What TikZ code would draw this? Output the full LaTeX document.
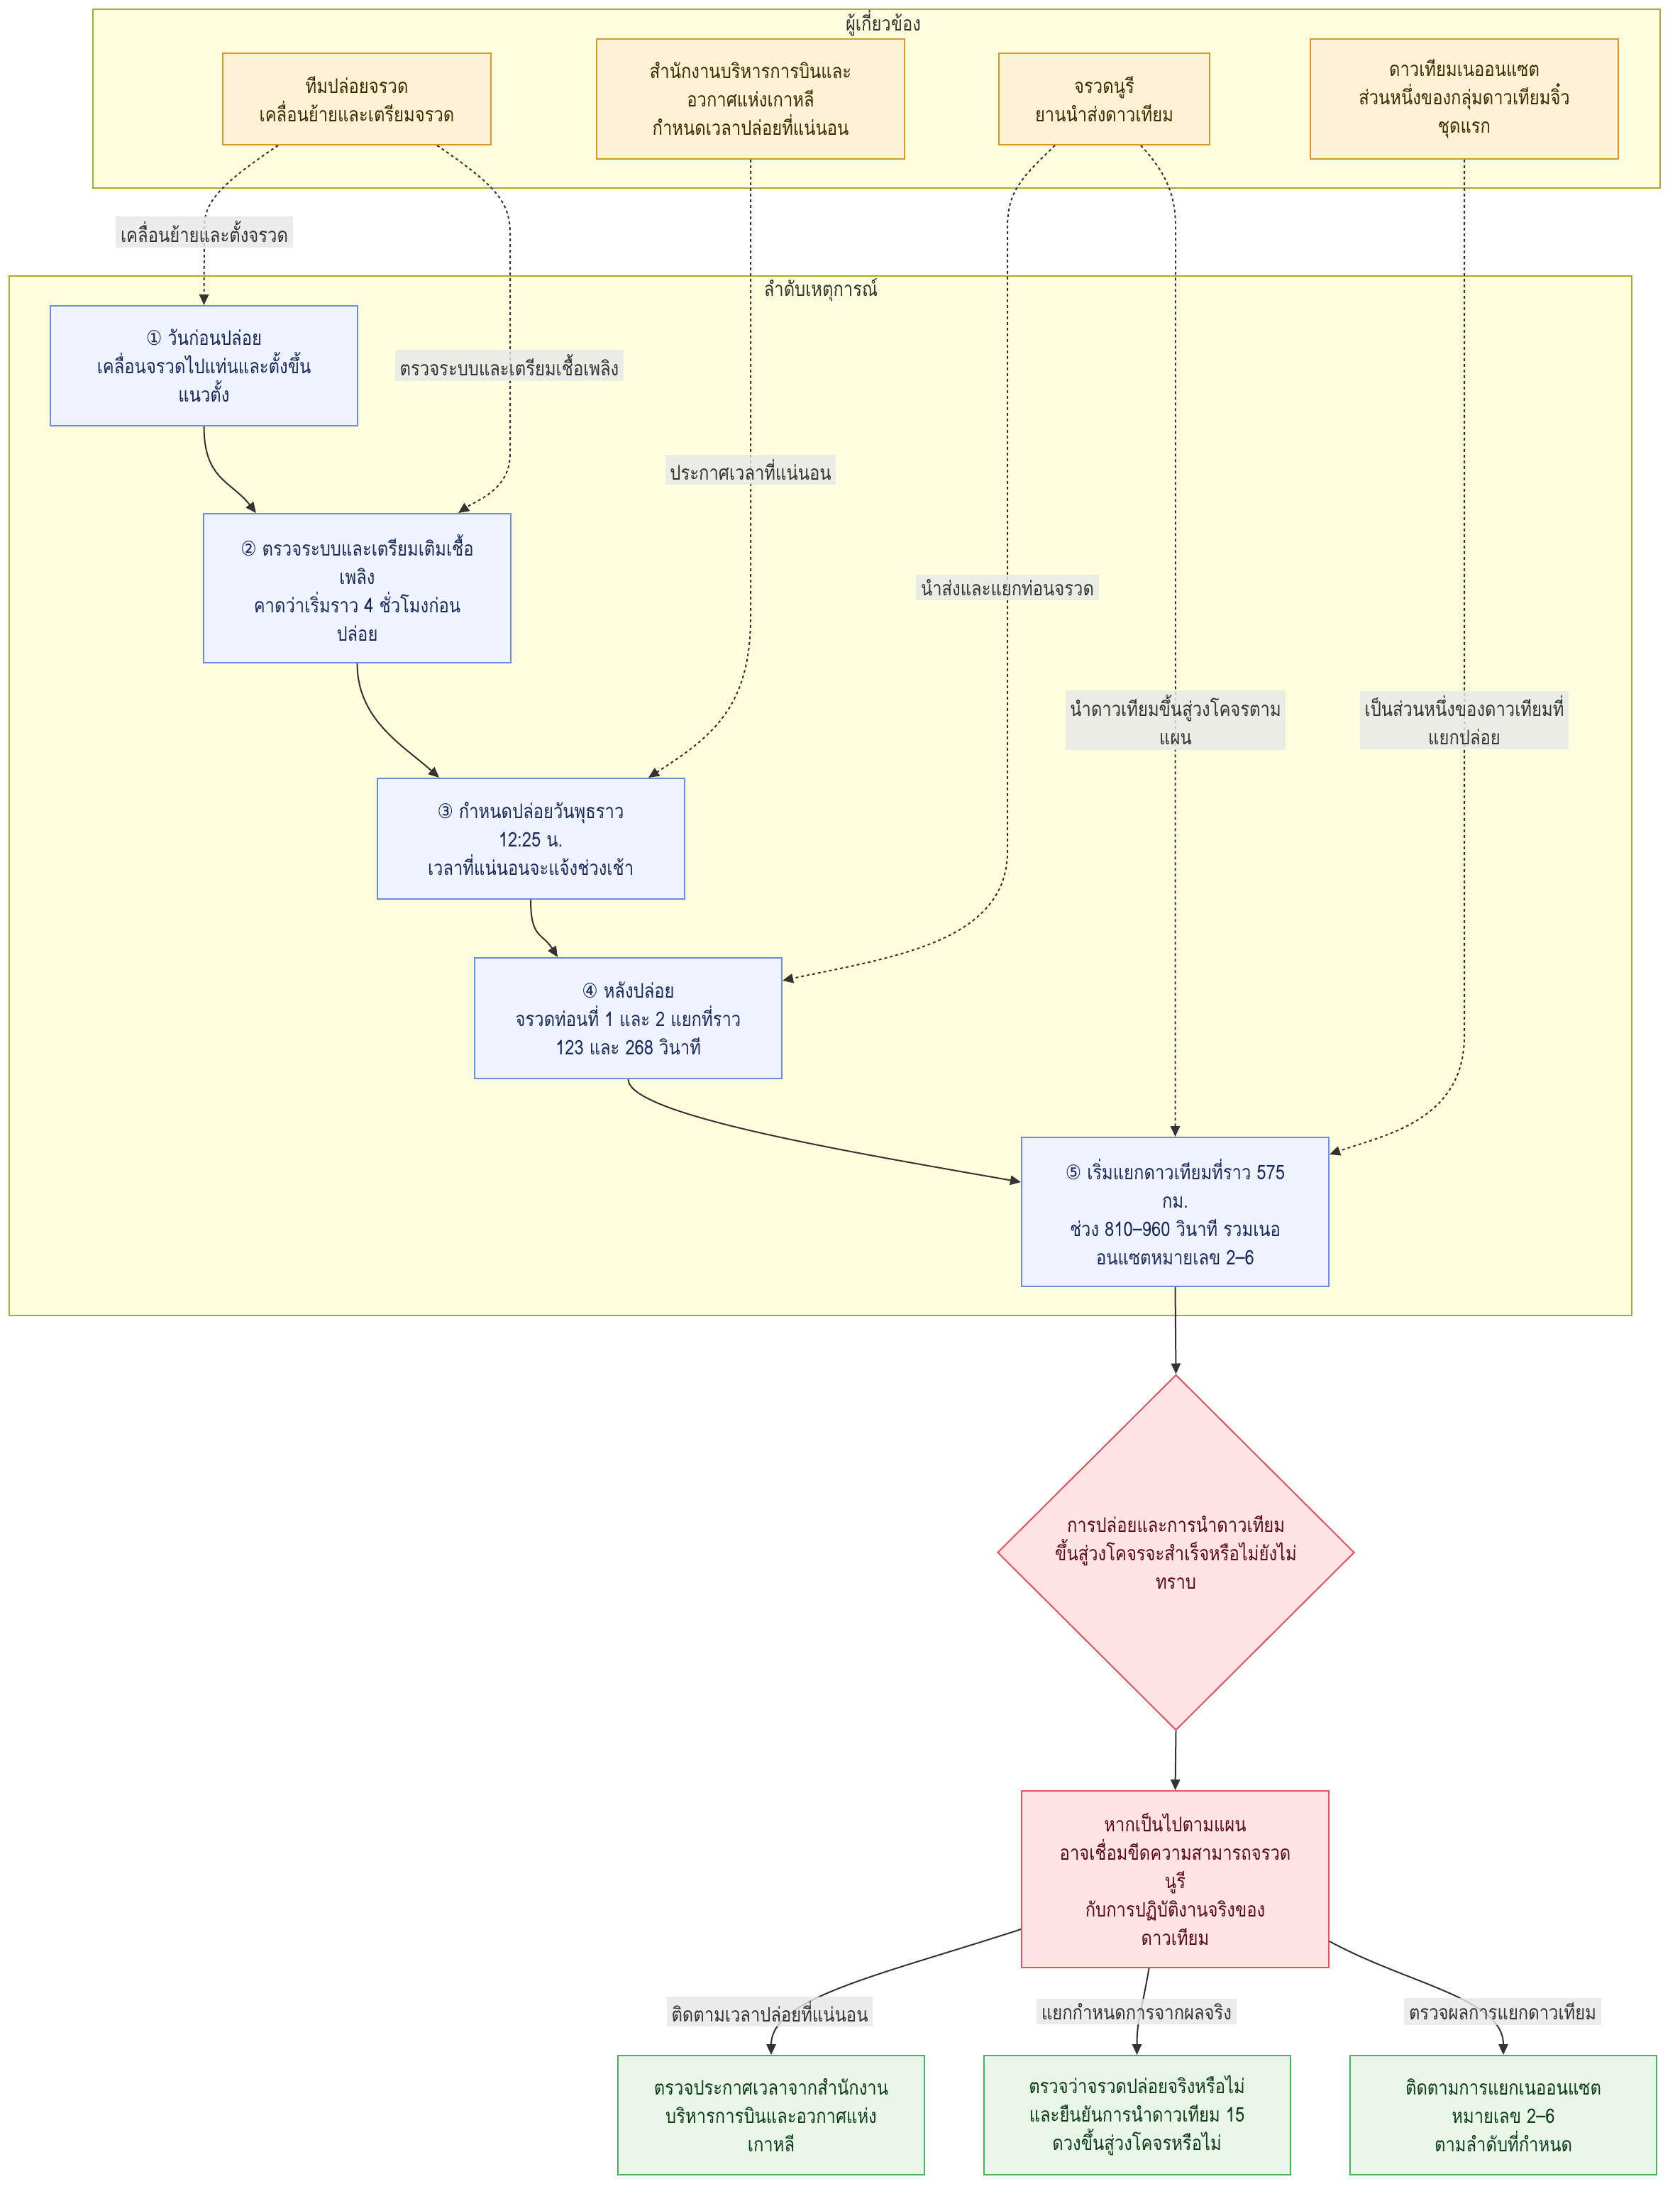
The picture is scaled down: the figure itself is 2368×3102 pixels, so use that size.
\documentclass[tikz,border=0pt]{standalone}
\usepackage{fontspec}
\setmainfont{Loma}[Script=Thai, FakeStretch=0.84]
\newfontfamily\symf{DejaVu Sans}[FakeStretch=0.88]
\usetikzlibrary{arrows.meta,shapes.geometric,calc}
\definecolor{grpfill}{HTML}{FFFFDE}
\definecolor{grpline}{HTML}{AAAA33}
\definecolor{stkfill}{HTML}{FFF2D5}
\definecolor{stkline}{HTML}{D6992A}
\definecolor{stktext}{HTML}{3D2B00}
\definecolor{evfill}{HTML}{EEF3FF}
\definecolor{evline}{HTML}{6A8EDB}
\definecolor{evtext}{HTML}{1B2A5C}
\definecolor{rdfill}{HTML}{FFE3E5}
\definecolor{rdline}{HTML}{DD5560}
\definecolor{rdtext}{HTML}{5C0A14}
\definecolor{gnfill}{HTML}{E8F5E9}
\definecolor{gnline}{HTML}{4CAF60}
\definecolor{gntext}{HTML}{0F3D1A}
\definecolor{lblfill}{HTML}{E8E8E8}
\definecolor{edgecol}{HTML}{333333}
\newcommand{\cn}[1]{{\symf #1}}
\begin{document}
\begin{tikzpicture}[x=0.3pt,y=-0.3pt,
  every node/.style={font=\fontsize{8.5pt}{12pt}\selectfont, align=center, inner sep=2pt},
  grp/.style={draw=grpline, fill=grpfill, line width=0.6pt},
  grptitle/.style={text=edgecol},
  stake/.style={draw=stkline, fill=stkfill, text=stktext, line width=0.6pt, rectangle},
  evbox/.style={draw=evline, fill=evfill, text=evtext, line width=0.6pt, rectangle, minimum width=129.9pt},
  rdbox/.style={draw=rdline, fill=rdfill, text=rdtext, line width=0.6pt},
  gnbox/.style={draw=gnline, fill=gnfill, text=gntext, line width=0.6pt, rectangle, minimum width=129.6pt, minimum height=50.4pt},
  elabel/.style={fill=lblfill, fill opacity=0.8, text opacity=1, text=edgecol, inner sep=2pt},
  solidarrow/.style={draw=edgecol, line width=0.6pt, -{Triangle[length=4.5pt,width=4pt]}},
  dotarrow/.style={draw=edgecol, line width=0.6pt, dash pattern=on 1.2pt off 1.2pt, -{Triangle[length=4.5pt,width=4pt]}}
]
\useasboundingbox (0,0) rectangle (2368,3102);
\fill[white] (0,0) rectangle (2368,3102);

% groups
\draw[grp] (131,13) rectangle (2340,265);
\node[grptitle] (g1t) at (1245,33) {ผู้เกี่ยวข้อง};
\draw[grp] (13,389) rectangle (2300,1854);
\node[grptitle] (g2t) at (1157,409) {ลำดับเหตุการณ์};

% stakeholders
\node[stake, minimum width=113.4pt, minimum height=38.7pt] (A) at (503,139.5) {ทีมปล่อยจรวด\\เคลื่อนย้ายและเตรียมจรวด};
\node[stake, minimum width=130.2pt, minimum height=50.7pt] (B) at (1058,139.5) {สำนักงานบริหารการบินและ\\อวกาศแห่งเกาหลี\\กำหนดเวลาปล่อยที่แน่นอน};
\node[stake, minimum width=89.1pt, minimum height=38.7pt] (C) at (1556.5,139.5) {จรวดนูรี\\ยานนำส่งดาวเทียม};
\node[stake, minimum width=130.2pt, minimum height=50.7pt] (D) at (2064,139.5) {ดาวเทียมเนออนแซต\\ส่วนหนึ่งของกลุ่มดาวเทียมจิ๋ว\\ชุดแรก};

% events
\node[evbox, minimum height=50.7pt] (N1) at (287.5,515.5) {\cn{①} วันก่อนปล่อย\\เคลื่อนจรวดไปแท่นและตั้งขึ้น\\แนวตั้ง};
\node[evbox, minimum height=63pt] (N2) at (503.5,829) {\cn{②} ตรวจระบบและเตรียมเติมเชื้อ\\เพลิง\\คาดว่าเริ่มราว 4 ชั่วโมงก่อน\\ปล่อย};
\node[evbox, minimum height=51pt] (N3) at (748,1182) {\cn{③} กำหนดปล่อยวันพุธราว\\12:25 น.\\เวลาที่แน่นอนจะแจ้งช่วงเช้า};
\node[evbox, minimum height=51pt] (N4) at (885.5,1435) {\cn{④} หลังปล่อย\\จรวดท่อนที่ 1 และ 2 แยกที่ราว\\123 และ 268 วินาที};
\node[evbox, minimum height=63pt] (N5) at (1656.5,1708) {\cn{⑤} เริ่มแยกดาวเทียมที่ราว 575\\กม.\\ช่วง 810–960 วินาที รวมเนอ\\อนแซตหมายเลข 2–6};

% decision and outcome
\node[rdbox, diamond, minimum width=150.9pt, minimum height=150.3pt, inner sep=0pt] (Q) at (1657.5,2188) {การปล่อยและการนำดาวเทียม\\ขึ้นสู่วงโคจรจะสำเร็จหรือไม่ยังไม่\\ทราบ};
\node[rdbox, rectangle, minimum width=129.9pt, minimum height=74.7pt] (N6) at (1656.5,2648.5) {หากเป็นไปตามแผน\\อาจเชื่อมขีดความสามารถจรวด\\นูรี\\กับการปฏิบัติงานจริงของ\\ดาวเทียม};

\node[gnbox] (G1) at (1087,2981) {ตรวจประกาศเวลาจากสำนักงาน\\บริหารการบินและอวกาศแห่ง\\เกาหลี};
\node[gnbox] (G2) at (1602.5,2981) {ตรวจว่าจรวดปล่อยจริงหรือไม่\\และยืนยันการนำดาวเทียม 15\\ดวงขึ้นสู่วงโคจรหรือไม่};
\node[gnbox] (G3) at (2119,2981) {ติดตามการแยกเนออนแซต\\หมายเลข 2–6\\ตามลำดับที่กำหนด};

% edges
\draw[dotarrow] ($(A.south)+(-111,0)$) .. controls (310,260) and (288,285) .. (288,320) -- (N1.north);
\draw[dotarrow] ($(A.south)+(113,0)$) .. controls (700,262) and (719,285) .. (719,330) -- (719,640) .. controls (719,690) and (672,705) .. ($(N2.north)+(142.5,0)$);
\draw[dotarrow] (B.south) -- (1058,870) .. controls (1058,1000) and (1000,1040) .. ($(N3.north)+(166,0)$);
\draw[dotarrow] ($(C.south)+(-69.5,0)$) .. controls (1440,250) and (1420,270) .. (1420,320) -- (1420,1200) .. controls (1420,1330) and (1250,1350) .. ($(N4.east)+(0,-53)$);
\draw[dotarrow] ($(C.south)+(51.5,0)$) .. controls (1640,240) and (1657,270) .. (1657,320) -- (N5.north);
\draw[dotarrow] (D.south) -- (2064,1460) .. controls (2064,1580) and (1950,1600) .. ($(N5.east)+(0,-81)$);

\draw[solidarrow] (N1.south) .. controls +(0,75) and +(-35,-45) .. ($(N2.north)+(-142.5,0)$);
\draw[solidarrow] (N2.south) .. controls +(0,80) and +(-50,-45) .. ($(N3.north)+(-129,0)$);
\draw[solidarrow] (N3.south) .. controls +(0,55) and +(-22,-35) .. ($(N4.north)+(-99.5,0)$);
\draw[solidarrow] (N4.south) .. controls +(0,50) and +(-250,-44) .. ($(N5.west)+(0,-42)$);
\draw[solidarrow] (N5.south) -- (Q.north);
\draw[solidarrow] (Q.south) -- (N6.north);
\draw[solidarrow] ($(N6.west)+(0,70.5)$) .. controls +(-200,65) and +(0,-80) .. (G1.north);
\draw[solidarrow] ($(N6.south)+(-37,0)$) .. controls +(-10,60) and +(0,-50) .. (G2.north);
\draw[solidarrow] ($(N6.east)+(0,87.5)$) .. controls +(110,60) and +(0,-80) .. (G3.north);

% edge labels
\node[elabel] (L1) at (288,327) {เคลื่อนย้ายและตั้งจรวด};
\node[elabel] (L2) at (718,515) {ตรวจระบบและเตรียมเชื้อเพลิง};
\node[elabel] (L3) at (1058,662) {ประกาศเวลาที่แน่นอน};
\node[elabel] (L4) at (1420,828) {นำส่งและแยกท่อนจรวด};
\node[elabel] (L5) at (1657,1015) {นำดาวเทียมขึ้นสู่วงโคจรตาม\\แผน};
\node[elabel] (L6) at (2064,1015) {เป็นส่วนหนึ่งของดาวเทียมที่\\แยกปล่อย};
\node[elabel] (L7) at (1085,2835) {ติดตามเวลาปล่อยที่แน่นอน};
\node[elabel] (L8) at (1602,2835) {แยกกำหนดการจากผลจริง};
\node[elabel] (L9) at (2118,2835) {ตรวจผลการแยกดาวเทียม};
\end{tikzpicture}
\end{document}
